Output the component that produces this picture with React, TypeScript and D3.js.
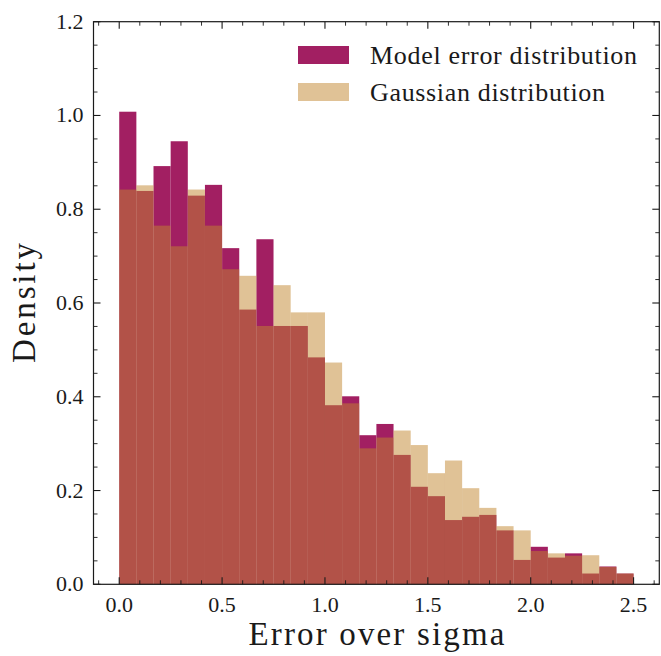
import * as d3 from "d3"
import React from "react"

// histogram bins: 30 bins over [0, 2.5]
const binEdges = d3.range(31).map(i => (i * 2.5) / 30)
const modelDensity = [1.008, 0.839, 0.892, 0.945, 0.829, 0.852, 0.717, 0.586, 0.736, 0.551,
  0.551, 0.484, 0.382, 0.401, 0.318, 0.342, 0.276, 0.208, 0.188, 0.137,
  0.144, 0.148, 0.115, 0.052, 0.080, 0.057, 0.066, 0.023, 0.038, 0.023]
const gaussDensity = [0.842, 0.851, 0.765, 0.721, 0.842, 0.765, 0.672, 0.658, 0.551, 0.638,
  0.580, 0.580, 0.473, 0.386, 0.290, 0.313, 0.328, 0.297, 0.237, 0.264,
  0.205, 0.163, 0.124, 0.115, 0.071, 0.066, 0.061, 0.062, 0.037, 0.023]
const xTickLabels = ["0.0", "0.5", "1.0", "1.5", "2.0", "2.5"]
const yTickLabels = ["0.0", "0.2", "0.4", "0.6", "0.8", "1.0", "1.2"]
const seriesNames = ["Model error distribution", "Gaussian distribution"]

const W = 661
const H = 656
const left = 93.5, right = 659.3, top = 21.7, bottom = 584.3
const txt = { style: { fontFamily: "'Liberation Serif', serif" }, fill: "#1a1a1a" }
const modelColor = "#a21f62"
const gaussColor = "#c1852d"

export default function App() {
  const x = d3.scaleLinear().domain([-0.125, 2.625]).range([left, right])
  const y = d3.scaleLinear().domain([0, 1.2]).range([bottom, top])
  const xMajor = xTickLabels.map(Number)
  const yMajor = yTickLabels.map(Number)
  const xMinor = d3.range(-0.1, 2.65, 0.1).filter(v => Math.abs(v * 2 - Math.round(v * 2)) > 1e-6)
  const yMinor = d3.range(0.05, 1.2, 0.05).filter(v => Math.abs(v * 5 - Math.round(v * 5)) > 1e-6)
  const bars = (vals, color, opacity) => vals.map((v, i) => (
    <rect key={i} x={x(binEdges[i])} width={x(binEdges[i + 1]) - x(binEdges[i])}
      y={y(v)} height={y(0) - y(v)} fill={color} fillOpacity={opacity} />
  ))
  const ink = "#1a1a1a"
  return (
    <svg width={W} height={H} style={{ position: "absolute", left: 0, top: 0, background: "#fff" }}>
      <g>{bars(modelDensity, modelColor, 1)}</g>
      <g>{bars(gaussDensity, gaussColor, 0.5)}</g>

      {/* ticks, inward on every side */}
      {xMajor.map(v => (
        <g key={"xM" + v}>
          <line x1={x(v)} x2={x(v)} y1={bottom} y2={bottom - 7} stroke={ink} strokeWidth={1.1} />
          <line x1={x(v)} x2={x(v)} y1={top} y2={top + 7} stroke={ink} strokeWidth={1.1} />
        </g>
      ))}
      {xMinor.map(v => (
        <g key={"xm" + v}>
          <line x1={x(v)} x2={x(v)} y1={bottom} y2={bottom - 4} stroke={ink} strokeWidth={0.9} />
          <line x1={x(v)} x2={x(v)} y1={top} y2={top + 4} stroke={ink} strokeWidth={0.9} />
        </g>
      ))}
      {yMajor.map(v => (
        <g key={"yM" + v}>
          <line x1={left} x2={left + 7} y1={y(v)} y2={y(v)} stroke={ink} strokeWidth={1.1} />
          <line x1={right} x2={right - 7} y1={y(v)} y2={y(v)} stroke={ink} strokeWidth={1.1} />
        </g>
      ))}
      {yMinor.map(v => (
        <g key={"ym" + v}>
          <line x1={left} x2={left + 4} y1={y(v)} y2={y(v)} stroke={ink} strokeWidth={0.9} />
          <line x1={right} x2={right - 4} y1={y(v)} y2={y(v)} stroke={ink} strokeWidth={0.9} />
        </g>
      ))}
      <rect x={left} y={top} width={right - left} height={bottom - top} fill="none" stroke={ink} strokeWidth={1.2} />

      {/* tick labels */}
      {xTickLabels.map((t, i) => (
        <text key={t} {...txt} x={x(xMajor[i])} y={bottom + 28} textAnchor="middle" fontSize={22}>{t}</text>
      ))}
      {yTickLabels.map((t, i) => (
        <text key={t} {...txt} x={left - 10} y={y(yMajor[i]) + 7} textAnchor="end" fontSize={22}>{t}</text>
      ))}

      {/* axis labels */}
      <text {...txt} x={(left + right) / 2} y={645} textAnchor="middle" fontSize={33}
        textLength={256} lengthAdjust="spacing">Error over sigma</text>
      <text {...txt} transform={`translate(35,${(top + bottom) / 2}) rotate(-90)`} textAnchor="middle" fontSize={33}
        textLength={120} lengthAdjust="spacing">Density</text>

      {/* legend */}
      <g>
        <rect x={298} y={46} width={51} height={18} fill={modelColor} />
        <text {...txt} x={370} y={64} fontSize={26} textLength={267} lengthAdjust="spacing">{seriesNames[0]}</text>
        <rect x={298} y={83} width={51} height={18} fill={gaussColor} fillOpacity={0.5} />
        <text {...txt} x={370} y={101} fontSize={26} textLength={235} lengthAdjust="spacing">{seriesNames[1]}</text>
      </g>
    </svg>
  )
}
